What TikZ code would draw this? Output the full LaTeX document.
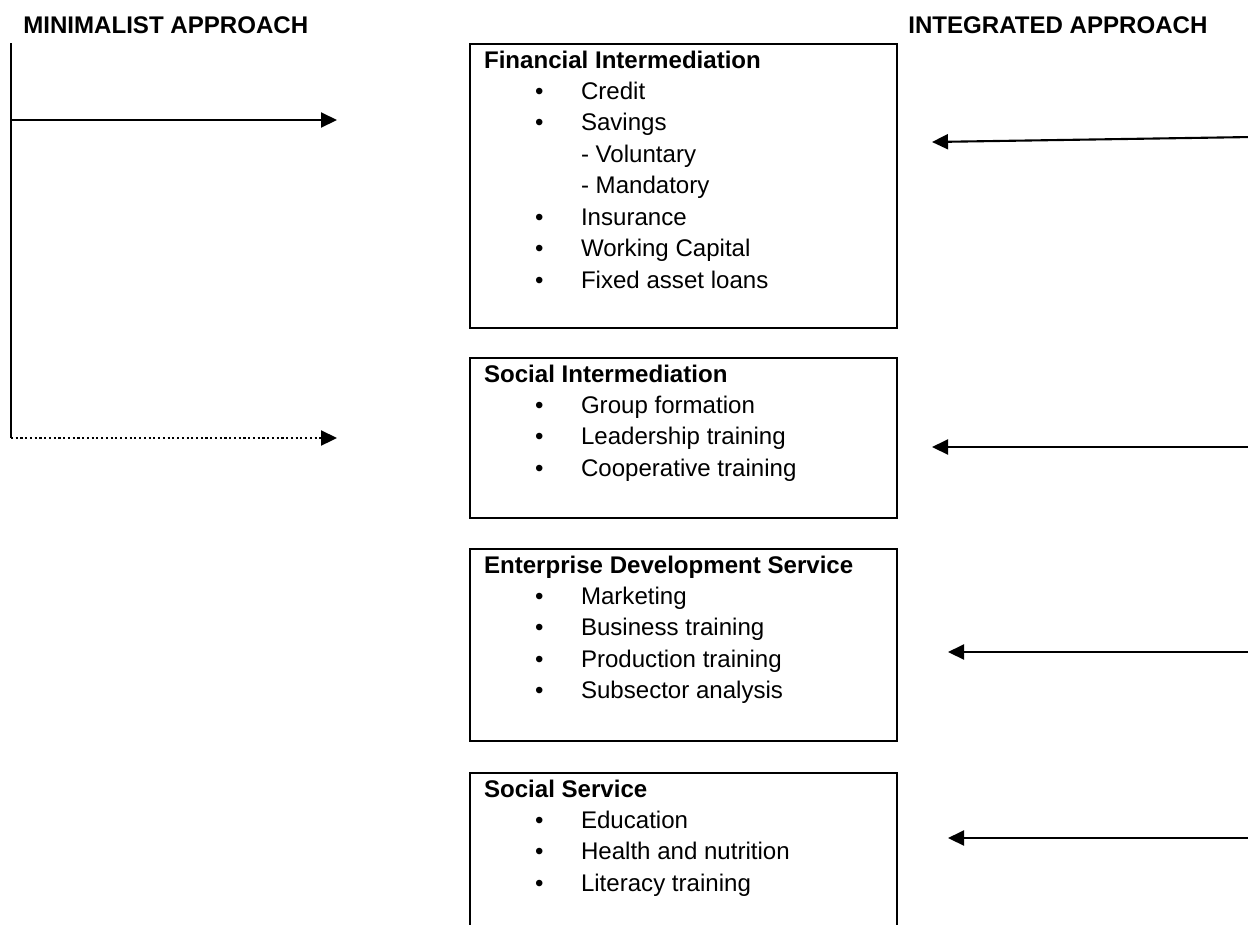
\documentclass[tikz,border=0pt]{standalone}
\usepackage{fontspec}
\setmainfont{Liberation Sans}
\usetikzlibrary{arrows.meta}
\newcommand{\itm}[1]{\hspace*{1.02cm}\makebox[0.92cm][l]{\textbullet}#1}
\newcommand{\subitm}[1]{\hspace*{1.94cm}#1}
\begin{document}
\begin{tikzpicture}[x=0.02cm,y=0.02cm,
  txt/.style={font=\fontsize{13.7}{17.9}\selectfont},
  hd/.style={font=\fontsize{13.7}{17.9}\selectfont\bfseries, inner sep=0pt},
  box/.style={txt, draw, line width=1.2pt, inner xsep=0.28cm, inner ysep=0.13cm, anchor=north west},
  arr/.style={line width=1.2pt, -{Triangle[length=0.32cm,width=0.3cm]}},
  dotarr/.style={arr, line width=1.3pt, dash pattern=on 1.2pt off 1.5pt}]
  \useasboundingbox (0,0) rectangle (1248,-924);
  \clip (0,0) rectangle (1248,-924);
  % headings
  \node[hd, anchor=base west] (minimal) at (23,-33) {MINIMALIST APPROACH};
  \node[hd, anchor=base west] (integrated) at (908,-33) {INTEGRATED APPROACH};
  % boxes
  \node[box] (fin) at (469,-43) {\parbox[t][5.42cm][t]{7.98cm}{\textbf{Financial Intermediation}\\
    \itm{Credit}\\ \itm{Savings}\\ \subitm{- Voluntary}\\ \subitm{- Mandatory}\\
    \itm{Insurance}\\ \itm{Working Capital}\\ \itm{Fixed asset loans}}};
  \node[box] (soc) at (469,-357) {\parbox[t][2.94cm][t]{7.98cm}{\textbf{Social Intermediation}\\
    \itm{Group formation}\\ \itm{Leadership training}\\ \itm{Cooperative training}}};
  \node[box] (ent) at (469,-548) {\parbox[t][3.58cm][t]{7.98cm}{\textbf{Enterprise Development Service}\\
    \itm{Marketing}\\ \itm{Business training}\\ \itm{Production training}\\ \itm{Subsector analysis}}};
  \node[box] (ser) at (469,-772) {\parbox[t][2.94cm][t]{7.98cm}{\textbf{Social Service}\\
    \itm{Education}\\ \itm{Health and nutrition}\\ \itm{Literacy training}}};
  % minimalist side
  \coordinate (top) at (11,-43);
  \coordinate (bot) at (11,-438);
  \coordinate (finL) at (337,-120);
  \coordinate (socL) at (337,-438);
  \draw[line width=1.2pt] (top) -- (bot);
  \draw[arr] (top |- finL) -- (finL);
  \draw[dotarr] (bot) -- (socL);
  % integrated side
  \coordinate (finR) at (932,-142);
  \coordinate (finE) at (1252,-137);
  \coordinate (socR) at (932,-447);
  \coordinate (socE) at (1252,-447);
  \coordinate (entR) at (948,-652);
  \coordinate (entE) at (1252,-652);
  \coordinate (serR) at (948,-838);
  \coordinate (serE) at (1252,-838);
  \draw[arr] (finE) -- (finR);
  \draw[arr] (socE) -- (socR);
  \draw[arr] (entE) -- (entR);
  \draw[arr] (serE) -- (serR);
\end{tikzpicture}
\end{document}
